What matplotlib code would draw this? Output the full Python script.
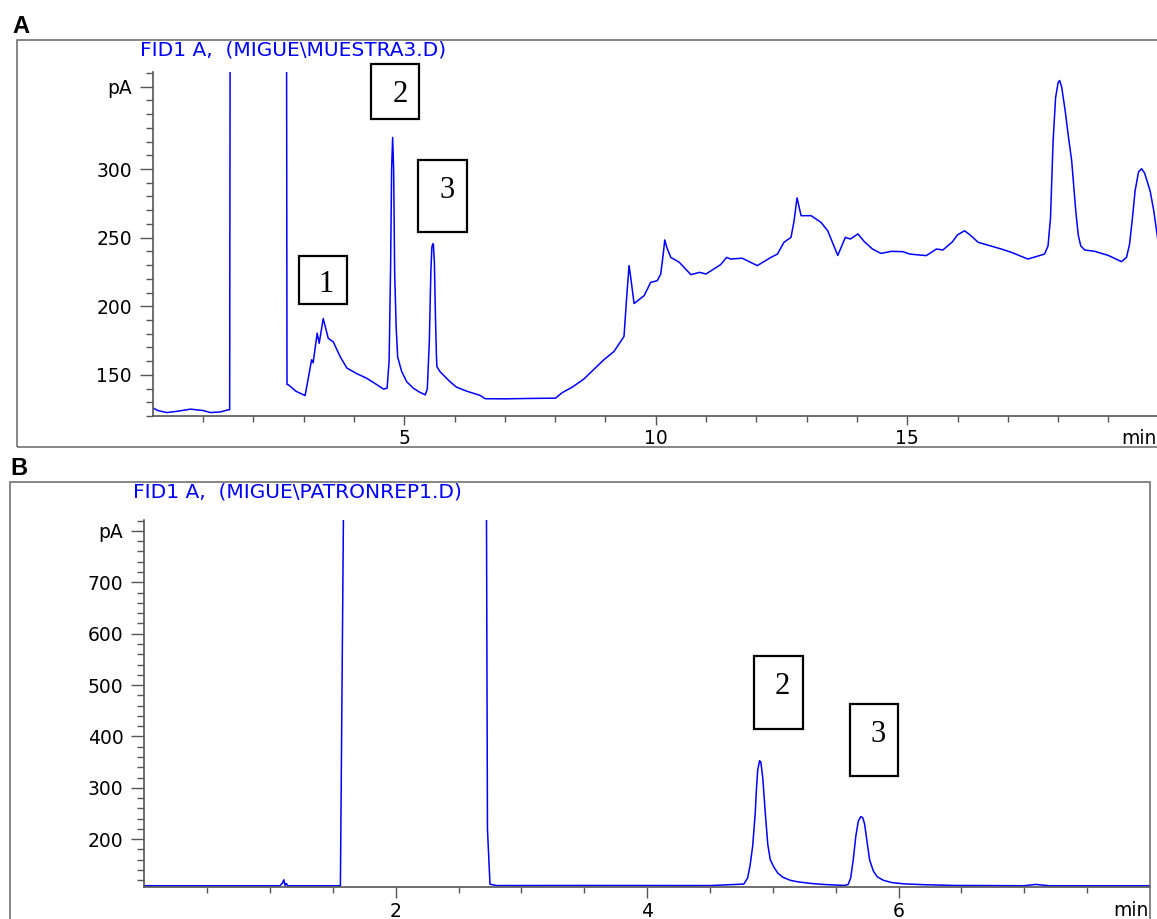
import numpy as np
import matplotlib
matplotlib.use('Agg')
import matplotlib.pyplot as plt
from matplotlib.patches import Rectangle

plt.rcParams['font.family'] = ['DejaVu Sans']

# Cromatograma A (muestra), tiempo en min, señal en pA
t_muestra = [0.0, 0.1, 0.28, 0.5, 0.75, 1.0, 1.15, 1.35, 1.5, 1.53, 1.56, 2.64, 2.67,
             2.70, 2.85, 3.03, 3.10, 3.16, 3.19, 3.27, 3.31, 3.39, 3.49, 3.59, 3.73,
             3.86, 4.05, 4.25, 4.45, 4.59, 4.66, 4.70, 4.73, 4.75, 4.77, 4.79, 4.81,
             4.84, 4.87, 4.95, 5.05, 5.18, 5.30, 5.42, 5.46, 5.50, 5.53, 5.55, 5.57,
             5.58, 5.60, 5.62, 5.64, 5.65, 5.71, 5.91, 6.04, 6.25, 6.51, 6.61, 7.0,
             7.5, 8.01, 8.14, 8.34, 8.57, 8.97, 9.17, 9.37, 9.42, 9.47, 9.50, 9.57,
             9.77, 9.90, 10.03, 10.10, 10.15, 10.18, 10.22, 10.30, 10.47, 10.70,
             10.87, 11.0, 11.29, 11.41, 11.49, 11.72, 12.02, 12.29, 12.42, 12.55,
             12.69, 12.75, 12.81, 12.89, 13.09, 13.29, 13.42, 13.62, 13.77, 13.87,
             14.02, 14.15, 14.31, 14.48, 14.68, 14.91, 15.05, 15.38, 15.58, 15.71,
             15.90, 16.0, 16.14, 16.25, 16.41, 16.87, 17.07, 17.40, 17.73, 17.80,
             17.85, 17.90, 17.95, 18.0, 18.03, 18.07, 18.14, 18.20, 18.27, 18.35,
             18.40, 18.45, 18.53, 18.73, 19.0, 19.26, 19.36, 19.42, 19.48, 19.53,
             19.60, 19.66, 19.72, 19.78, 19.83, 19.90, 19.99, 20.1]
pA_muestra = [126, 124, 122.5, 123.5, 125, 124, 122.5, 123, 124.5, 124.5, 1000, 1000, 143,
              142.7, 138, 134.9, 148.8, 161, 158.8, 180.4, 173, 191, 176.6, 174, 163,
              155, 151, 147.6, 143, 139.6, 140.3, 160, 230, 300, 323, 300, 225,
              185, 163, 152.4, 145, 140.3, 137.5, 135.4, 140, 175, 225, 243, 245.6,
              245, 232, 195, 165, 156, 152.4, 145, 141, 138, 135, 132.6, 132.5,
              132.8, 133, 137, 141, 146.9, 161, 167, 178, 205, 229.6, 222, 202,
              207.7, 217.4, 218.6, 223.5, 238, 248.3, 243, 235.6, 232, 223,
              224.7, 223.5, 230.3, 235.6, 234.4, 235, 229.6, 235.6, 238, 246.6,
              250.2, 262, 279, 266, 266, 261, 255, 237, 250.2, 249,
              252.7, 247, 241.7, 238.5, 240, 239.8, 238, 236.9, 241.7, 241,
              247, 252, 255, 252, 246.6, 241.7, 239.3, 234.4, 238, 244,
              265, 320, 352, 363, 364.5, 360, 342.7, 325, 306, 270,
              252, 244, 241, 240, 237, 232.5, 235.6, 245, 265, 284,
              298, 300.2, 297, 290, 284, 270, 246.6, 232]

# Cromatograma B (patrón)
t_patron = [0.0, 0.5, 1.08, 1.10, 1.11, 1.12, 1.13, 1.14, 1.56, 1.59, 1.61, 2.72, 2.73,
            2.75, 2.80, 3.5, 4.5, 4.77, 4.80, 4.82, 4.84, 4.86, 4.87, 4.88, 4.895,
            4.905, 4.92, 4.94, 4.96, 4.98, 5.01, 5.04, 5.08, 5.14, 5.20, 5.30, 5.40,
            5.57, 5.60, 5.62, 5.64, 5.66, 5.68, 5.70, 5.715, 5.73, 5.75, 5.77, 5.80,
            5.83, 5.88, 5.95, 6.05, 6.20, 6.45, 7.0, 7.09, 7.2, 8.1]
pA_patron = [109.5, 109.5, 109.5, 115, 121, 110, 114, 109.5, 109.5, 1000, 1000, 1000, 220,
             112.5, 109.8, 110, 109.8, 112.7, 125, 150, 187, 250, 298, 335, 352.7,
             350, 320, 252, 190, 160, 145, 134, 126, 120, 117, 114, 112,
             110, 112, 125, 160, 205, 235, 244, 242, 230, 195, 160, 138,
             127, 120, 115.5, 113, 111.5, 110, 109.5, 112, 109.5, 109.5]

W, H = 1157, 919


def fx(x):
    return x / W


def fy(y):
    return 1 - y / H


def estilo_ejes(ax, ymajor, ylabels, yminor, xmajor, xlabels, xminor, xlen):
    for s in ['top', 'right']:
        ax.spines[s].set_visible(False)
    for s in ['left', 'bottom']:
        ax.spines[s].set_color('#555555')
        ax.spines[s].set_linewidth(1.2)
    ax.set_yticks(ymajor)
    ax.set_yticklabels(ylabels)
    ax.set_yticks(yminor, minor=True)
    ax.set_xticks(xmajor)
    ax.set_xticklabels(xlabels)
    ax.set_xticks(xminor, minor=True)
    ax.tick_params(axis='y', which='major', length=9.5, width=1, color='#555555',
                   labelsize=13.5, pad=5.5)
    ax.tick_params(axis='y', which='minor', length=5, width=1, color='#555555')
    ax.tick_params(axis='x', which='major', length=xlen, width=1, color='#555555',
                   labelsize=13.5, pad=3)
    ax.tick_params(axis='x', which='minor', length=4, width=1, color='#555555')


def recuadro(x0, y0, x1, y1, txt, tx, ty):
    fig.add_artist(Rectangle((fx(x0), fy(y1)), (x1 - x0) / W, (y1 - y0) / H,
                             transform=fig.transFigure, fill=False, ec='black', lw=1.6))
    fig.text(fx(tx), fy(ty), txt, fontsize=22, family='Liberation Serif',
             ha='center', va='center')


fig = plt.figure(figsize=(11.57, 9.19), dpi=100)

# marcos exteriores
fig.add_artist(Rectangle((fx(17), fy(447)), (1180 - 17) / W, (447 - 40) / H,
                         transform=fig.transFigure, fill=False, ec='#666666', lw=1.1))
fig.add_artist(Rectangle((fx(9.5), fy(940)), (1150 - 9.5) / W, (940 - 482) / H,
                         transform=fig.transFigure, fill=False, ec='#666666', lw=1.1))

# Panel A
axA = fig.add_axes([fx(152.7), fy(416), 20 * 50.3 / W, (416 - 72.3) / H])
axA.plot(t_muestra, pA_muestra, color='#0000ff', lw=1.1)
axA.set_xlim(0, 20)
axA.set_ylim(120, 370.5)
estilo_ejes(axA, [150, 200, 250, 300, 360], ['150', '200', '250', '300', 'pA'],
            np.arange(120, 371, 10), [5, 10, 15], ['5', '10', '15'], np.arange(1, 20), 6.5)

# Panel B
axB = fig.add_axes([fx(144.3), fy(887), 8.0 * 125.7 / W, (887 - 519.6) / H])
axB.plot(t_patron, pA_patron, color='#0000ff', lw=1.1)
axB.set_xlim(0, 8)
axB.set_ylim(107, 822)
estilo_ejes(axB, [200, 300, 400, 500, 600, 700, 800],
            ['200', '300', '400', '500', '600', '700', 'pA'],
            np.arange(120, 821, 20), [2, 4, 6], ['2', '4', '6'],
            np.arange(0.5, 8, 0.5), 8)

# textos
fig.text(fx(12), fy(33), 'A', fontsize=17, fontweight='bold', family='Liberation Sans')
fig.text(fx(10), fy(475), 'B', fontsize=17, fontweight='bold', family='Liberation Sans')
fig.text(fx(140), fy(50), 'FID1 A,  (MIGUE\\MUESTRA3.D)', color='#0000ff',
         fontsize=14.5, va='center')
fig.text(fx(133), fy(492), 'FID1 A,  (MIGUE\\PATRONREP1.D)', color='#0000ff',
         fontsize=14.5, va='center')
fig.text(fx(1121), fy(444), 'min', fontsize=13.5)
fig.text(fx(1113), fy(916), 'min', fontsize=13.5)

recuadro(299, 256, 347, 304, '1', 326, 284)
recuadro(371, 64, 419, 119, '2', 400, 94)
recuadro(418, 160, 467, 232, '3', 447, 190)
recuadro(754, 656, 803, 729, '2', 782, 686)
recuadro(850, 704, 898, 776, '3', 878, 734)

fig.savefig('out.png', dpi=100)
